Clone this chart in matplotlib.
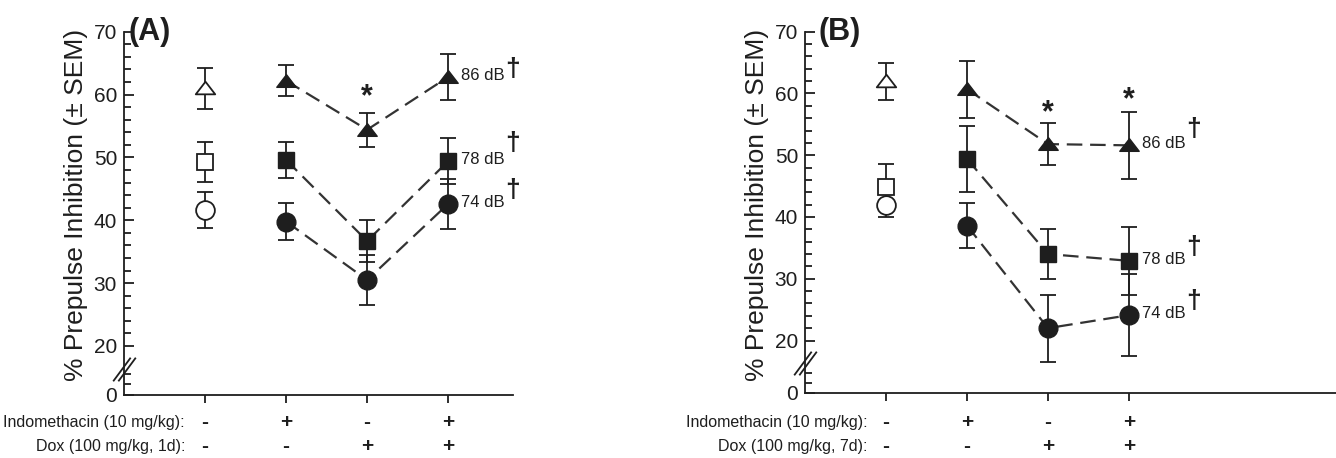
import matplotlib
matplotlib.use("Agg")
import matplotlib.pyplot as plt
from matplotlib.path import Path
from matplotlib.transforms import blended_transform_factory

W, H = 1336, 458
INK = "#1e1e1e"

plt.rcParams.update({
    "font.family": ["Liberation Sans", "DejaVu Sans"],
    "font.size": 14,
    "text.color": INK,
    "axes.edgecolor": INK,
    "xtick.color": INK,
    "ytick.color": INK,
})

# treatment groups along x (1 = control, open symbols)
groups = [1, 2, 3, 4]
treat_x = [2, 3, 4]
indo_signs = ["-", "+", "-", "+"]
dox_signs = ["-", "-", "+", "+"]

# panel A: Dox 1 day
a_ctrl = [61.0, 49.3, 41.6]          # 86, 78, 74 dB controls
a_ctrl_sem = [3.3, 3.2, 2.9]
a_86 = [62.2, 54.4, 62.8]
a_86_sem = [2.5, 2.7, 3.6]
a_78 = [49.6, 36.7, 49.4]
a_78_sem = [2.9, 3.4, 3.7]
a_74 = [39.8, 30.5, 42.6]
a_74_sem = [3.0, 4.0, 4.0]
a_stars = [(3, 59.6)]

# panel B: Dox 7 days
b_ctrl = [62.0, 44.9, 42.0]
b_ctrl_sem = [3.0, 3.6, 2.0]
b_86 = [60.7, 51.8, 51.6]
b_86_sem = [4.6, 3.4, 5.4]
b_78 = [49.4, 34.0, 32.9]
b_78_sem = [5.3, 4.0, 5.5]
b_74 = [38.6, 22.0, 24.1]
b_74_sem = [3.6, 5.4, 6.6]
b_stars = [(3, 56.8), (4, 58.9)]

levels = ["86 dB", "78 dB", "74 dB"]

# the printed triangles are wider than tall
TRI = Path([(-1, -0.6), (1, -0.6), (0, 0.7), (-1, -0.6)],
           [Path.MOVETO, Path.LINETO, Path.LINETO, Path.CLOSEPOLY])
markers = [TRI, "s", "o"]
msizes = [14, 12, 13.5]

# two parallel slashes, drawn as one marker on the y axis
BREAK = Path([(-11, -11.5), (6, 11.5), (-6, -11.5), (11, 11.5)],
             [Path.MOVETO, Path.LINETO, Path.MOVETO, Path.LINETO])


def fx(px):
    return px / W


def fy(py):
    return 1 - py / H


def draw_panel(fig, rect, ylim, xmax, low_ticks, tag, tag_px, ylab_px,
               lab_right, dose_label, ctrl, ctrl_sem, series, stars, dag_dy):
    ax = fig.add_axes(rect)
    ax.set_xlim(0, xmax)
    ax.set_ylim(*ylim)
    for s in ["top", "right"]:
        ax.spines[s].set_visible(False)
    ax.spines["left"].set_linewidth(1.3)
    ax.spines["bottom"].set_linewidth(1.3)

    ax.set_yticks([ylim[0], 20, 30, 40, 50, 60, 70])
    ax.set_yticklabels(["0", "20", "30", "40", "50", "60", "70"])
    minor = [v for v in range(22, 70, 2) if v % 10] + low_ticks
    ax.set_yticks(minor, minor=True)
    ax.tick_params(axis="y", which="major", direction="in", length=7,
                   width=1.3, labelsize=15, pad=5)
    ax.tick_params(axis="y", which="minor", direction="in", length=5, width=1.3)
    ax.set_xticks(groups)
    ax.set_xticklabels([])
    ax.tick_params(axis="x", direction="out", length=6, width=1.3)

    # axis break on the y axis
    ax.plot([0], [16.3], transform=ax.get_yaxis_transform(), marker=BREAK,
            markersize=17, mfc="none", mec=INK, mew=1.3, clip_on=False)

    for i in range(3):
        ax.errorbar([groups[0]], [ctrl[i]], yerr=[ctrl_sem[i]], fmt="none",
                    ecolor=INK, elinewidth=1.3, capsize=5.5, capthick=1.3,
                    zorder=3)
        ax.plot([groups[0]], [ctrl[i]], linestyle="none", marker=markers[i],
                ms=msizes[i], mfc="white", mec=INK, mew=1.3, zorder=4)
    for (vals, sem), m, ms in zip(series, markers, msizes):
        ax.plot(treat_x, vals, color="#333333", lw=1.6,
                linestyle=(0, (7, 3.5)), zorder=2)
        ax.errorbar(treat_x, vals, yerr=sem, fmt="none", ecolor=INK,
                    elinewidth=1.3, capsize=5.5, capthick=1.3, zorder=3)
        ax.plot(treat_x, vals, linestyle="none", marker=m, ms=ms, mfc=INK,
                mec=INK, mew=1.0, zorder=4)

    for x, y in stars:
        ax.text(x, y, "*", ha="center", va="center", fontsize=22,
                fontweight="bold")

    # level labels with daggers
    for (vals, _), name, dy in zip(series, levels, dag_dy):
        ax.annotate(name, (treat_x[-1], vals[-1]), xytext=(9, 1),
                    textcoords="offset points", ha="left", va="center",
                    fontsize=12, annotation_clip=False)
        ax.annotate("\u2020", (treat_x[-1], vals[-1]), xytext=(41, dy),
                    textcoords="offset points", ha="left", va="center",
                    fontsize=19, fontweight="bold", annotation_clip=False)

    fig.text(fx(tag_px[0]), fy(tag_px[1]), tag, fontsize=22,
             fontweight="bold", ha="left", va="center")
    fig.text(fx(ylab_px[0]), fy(ylab_px[1]), "% Prepulse Inhibition (\u00b1 SEM)",
             rotation=90, ha="center", va="center", fontsize=19)

    tr = blended_transform_factory(ax.transData, fig.transFigure)
    fig.text(fx(lab_right), fy(423), "Indomethacin (10 mg/kg):", ha="right",
             va="center", fontsize=11.5)
    fig.text(fx(lab_right), fy(447), dose_label, ha="right", va="center",
             fontsize=11.5)
    for g, a, b in zip(groups, indo_signs, dox_signs):
        ax.text(g, fy(423), a, transform=tr, ha="center", va="center",
                fontsize=15, fontweight="bold")
        ax.text(g, fy(447), b, transform=tr, ha="center", va="center",
                fontsize=15, fontweight="bold")
    return ax


fig = plt.figure(figsize=(W / 100, H / 100), dpi=100)

draw_panel(fig, [fx(124), fy(395), fx(389), 363.3 / H], (12.2, 70), 4.8,
           [14.0, 15.6], "(A)", (128, 32), (76, 205), 185,
           "Dox (100 mg/kg, 1d):", a_ctrl, a_ctrl_sem,
           [(a_86, a_86_sem), (a_78, a_78_sem), (a_74, a_74_sem)], a_stars,
           [6, 13, 10])

draw_panel(fig, [fx(805), fy(393), fx(531), 361.3 / H], (11.5, 70), 531 / 81,
           [13.2, 14.7], "(B)", (818, 32), (757, 205), 868,
           "Dox (100 mg/kg, 7d):", b_ctrl, b_ctrl_sem,
           [(b_86, b_86_sem), (b_78, b_78_sem), (b_74, b_74_sem)], b_stars,
           [12, 10, 10])

fig.savefig("out.png", dpi=100, facecolor="white")
